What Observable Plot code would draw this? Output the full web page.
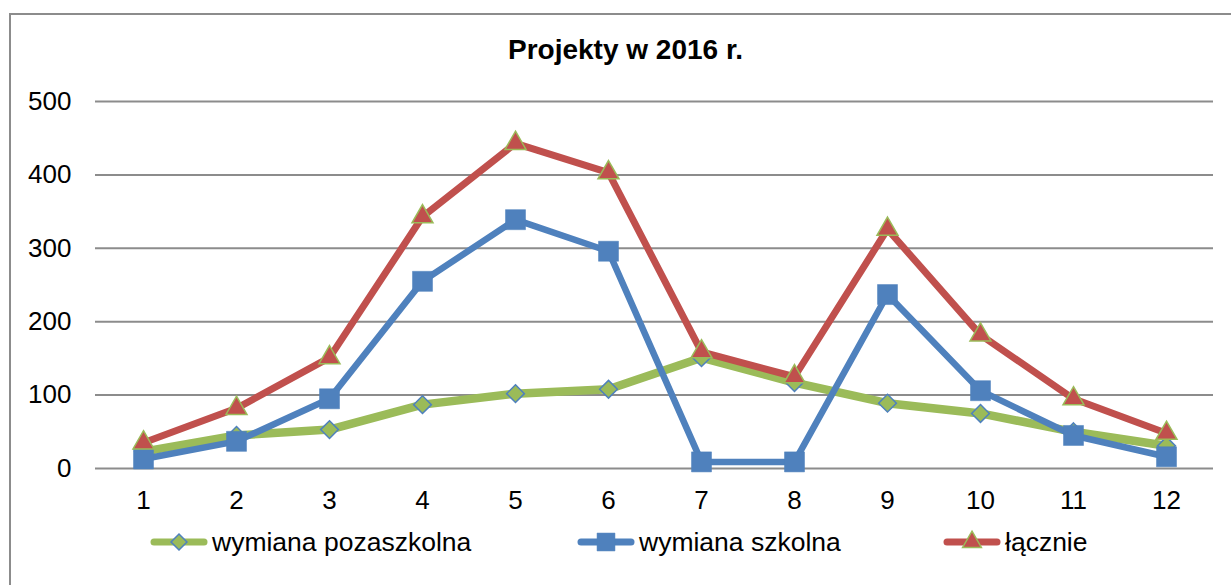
<!DOCTYPE html>
<html>
<head>
<meta charset="utf-8">
<script src="https://cdn.jsdelivr.net/npm/d3@7"></script>
<script src="https://cdn.jsdelivr.net/npm/@observablehq/plot@0.6"></script>
<style>
  html, body { margin: 0; padding: 0; background: #fff; overflow: hidden; }
  #wrap { position: relative; width: 1231px; height: 585px; overflow: hidden; font-family: "Liberation Sans", Arial, sans-serif; }
  #frame { position: absolute; left: 9px; top: 13px; width: 1300px; height: 700px; border: 2px solid #8c8c8c; box-sizing: border-box; }
  #title { position: absolute; top: 36px; left: 625.5px; transform: translateX(-50%); font-size: 28px; line-height: 28px; font-weight: bold; white-space: nowrap; color: #000; }
  #chart { position: absolute; left: 0; top: 80px; }
  .leg { position: absolute; top: 526px; height: 32px; display: flex; align-items: center; font-size: 26.5px; color: #000; white-space: nowrap; }
  .leg svg { display: block; margin-right: 4px; }
</style>
</head>
<body>
<div id="wrap">
  <div id="frame"></div>
  <div id="title">Projekty w 2016 r.</div>
  <div id="chart"></div>
  <div id="legend"></div>
</div>
<script>
// ---- data ----
const months = [1, 2, 3, 4, 5, 6, 7, 8, 9, 10, 11, 12];
const pozaszkolna = [23, 45, 53, 87, 102, 108, 151, 117, 89, 75, 50, 31];
const szkolna = [13, 37, 95, 255, 339, 296, 9, 9, 237, 106, 45, 16];
const lacznie = [35, 82, 151, 343, 443, 403, 159, 125, 326, 182, 95, 48];
const seriesNames = ["wymiana pozaszkolna", "wymiana szkolna", "łącznie"];
const yTicks = [0, 100, 200, 300, 400, 500];

const green = "#9BBB59", blue = "#4F81BD", red = "#C0504D";
const styles = [
  {values: pozaszkolna, line: green, lw: 8.5, symbol: "diamond2", r: 8, fill: green, stroke: blue, sw: 1.5},
  {values: szkolna, line: blue, lw: 6.5, symbol: "square", r: 11.3, fill: blue, stroke: blue, sw: 0.5},
  {values: lacznie, line: red, lw: 7, symbol: "triangle", r: 7.8, fill: red, stroke: green, sw: 1.5}
];

const marks = [
  Plot.ruleY(yTicks, {stroke: "#8c8c8c", strokeWidth: 2}),
  Plot.axisY(yTicks, {tickSize: 0, tickPadding: 24, label: null}),
  Plot.axisX({tickSize: 0, tickPadding: 22, label: null})
];
styles.forEach(s => {
  const data = months.map((m, i) => ({m, v: s.values[i]}));
  marks.push(Plot.line(data, {x: "m", y: "v", stroke: s.line, strokeWidth: s.lw, strokeLinejoin: "round", strokeLinecap: "round"}));
  marks.push(Plot.dot(data, {x: "m", y: "v", symbol: s.symbol, r: s.r, fill: s.fill, stroke: s.stroke, strokeWidth: s.sw}));
});

const chart = Plot.plot({
  width: 1231,
  height: 450,
  marginTop: 21,
  marginBottom: 62,
  marginLeft: 95,
  marginRight: 18,
  style: {fontFamily: "'Liberation Sans', Arial, sans-serif", fontSize: "26px", color: "#000", background: "transparent", overflow: "visible"},
  x: {type: "point", domain: months, padding: 0.5, label: null},
  y: {domain: [0, 500], label: null},
  marks
});
document.getElementById("chart").appendChild(chart);

// ---- legend ----
const symbolMap = {diamond2: d3.symbolDiamond2, square: d3.symbolSquare, triangle: d3.symbolTriangle};
const legLeft = [150, 577, 943];
const legend = document.getElementById("legend");
styles.forEach((s, i) => {
  const div = document.createElement("div");
  div.className = "leg";
  div.style.left = legLeft[i] + "px";
  const path = d3.symbol(symbolMap[s.symbol], Math.PI * s.r * s.r * 0.8)();
  div.innerHTML = `<svg width="58" height="32" viewBox="0 0 58 32">
      <line x1="4" x2="54" y1="16" y2="16" stroke="${s.line}" stroke-width="7" stroke-linecap="round"/>
      <path d="${path}" transform="translate(29,16)" fill="${s.fill}" stroke="${s.stroke}" stroke-width="${s.sw}"/>
    </svg><span>${seriesNames[i]}</span>`;
  legend.appendChild(div);
});
</script>
</body>
</html>
